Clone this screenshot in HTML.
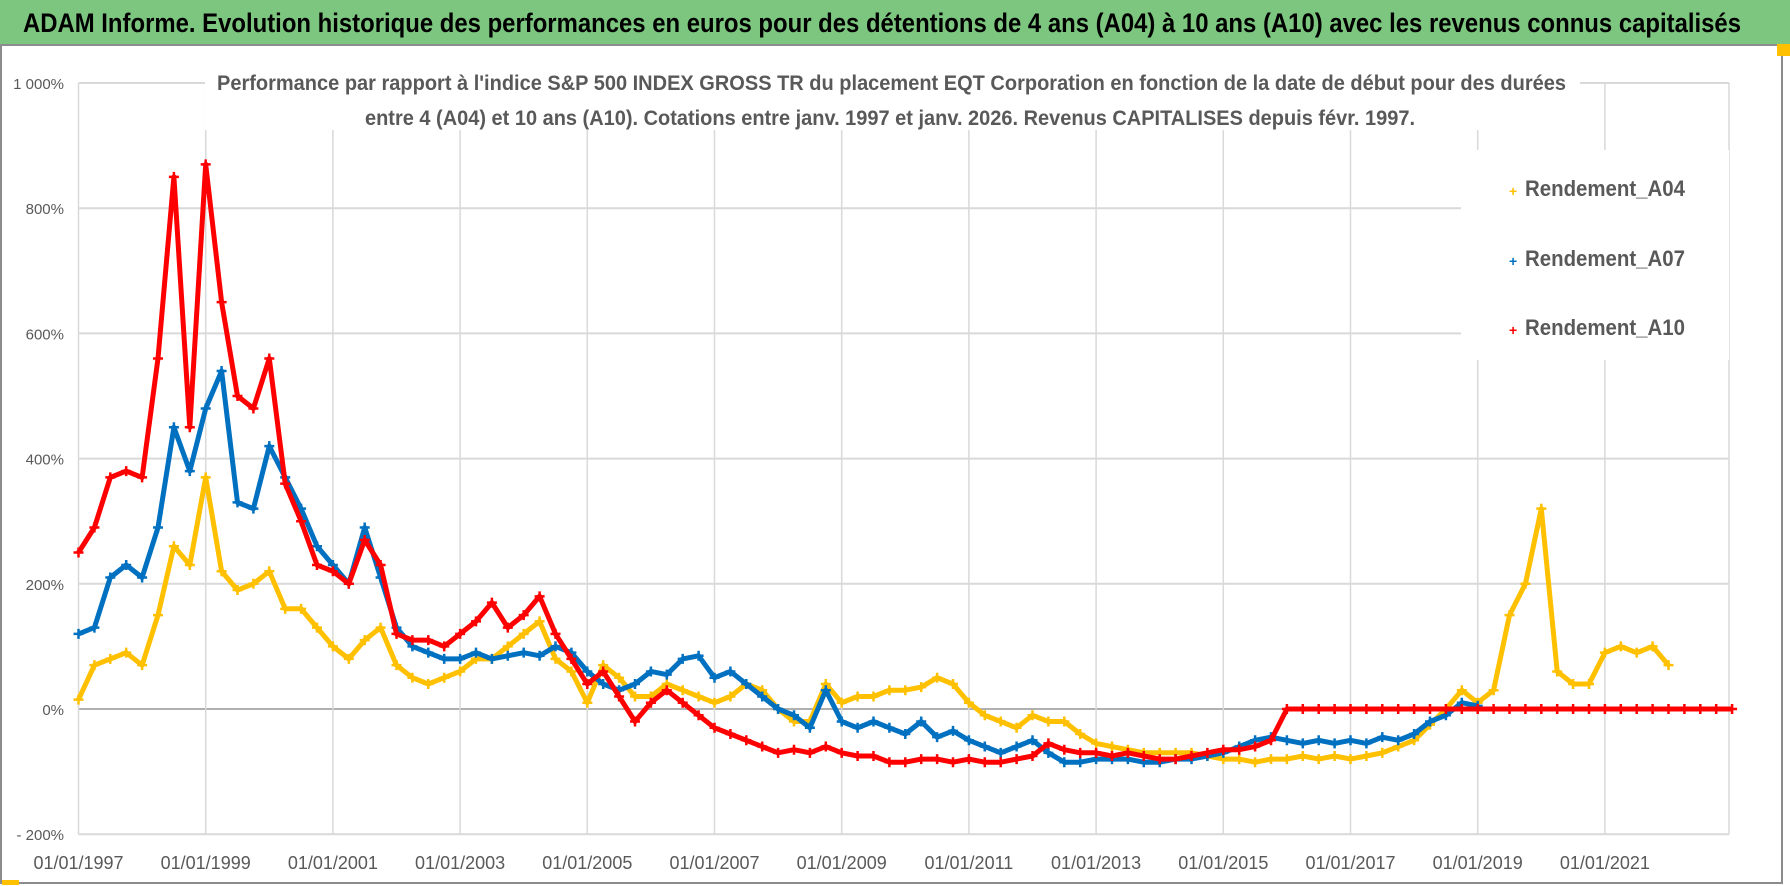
<!DOCTYPE html>
<html><head><meta charset="utf-8"><style>
html,body{margin:0;padding:0;background:#fff;}
svg{display:block;font-family:"Liberation Sans Narrow","Liberation Sans",sans-serif;}
</style></head><body>
<svg id="chart" width="1790" height="886" viewBox="0 0 1790 886" xmlns="http://www.w3.org/2000/svg">
<rect x="0" y="0" width="1790" height="886" fill="#fff"/>
<rect x="0" y="0" width="1790" height="44" fill="#7dc67f"/>
<text x="23" y="32" font-size="27" font-weight="bold" fill="#000" textLength="1718" lengthAdjust="spacingAndGlyphs">ADAM Informe. Evolution historique des performances en euros pour des détentions de 4 ans (A04) à 10 ans (A10) avec les revenus connus capitalisés</text>
<rect x="1" y="45" width="1781" height="838" fill="none" stroke="#8c8c8c" stroke-width="2"/>
<rect x="1777" y="44" width="13" height="12" fill="#ffc000"/>
<rect x="2" y="880" width="17" height="5" fill="#ffc000"/>
<g id="grid"></g>
<g id="series"></g>
<rect x="205" y="66" width="1375" height="64" fill="#fff"/>
<text x="217" y="90" font-size="21" font-weight="bold" fill="#595959" textLength="1349" lengthAdjust="spacingAndGlyphs">Performance par rapport à l'indice S&amp;P 500 INDEX GROSS TR  du placement EQT Corporation en fonction de la date de début pour des durées</text>
<text x="365" y="125" font-size="21" font-weight="bold" fill="#595959" textLength="1050" lengthAdjust="spacingAndGlyphs">entre 4 (A04) et 10 ans (A10).  Cotations entre janv. 1997 et janv. 2026. Revenus CAPITALISES depuis févr. 1997.</text>
<g>
<rect x="1461" y="150" width="268" height="210" fill="#fff"/>
<g><text x="1509" y="196" font-size="14" fill="#ffc000" font-weight="bold">+</text><text x="1525" y="196" font-size="22" font-weight="bold" fill="#595959" textLength="160" lengthAdjust="spacingAndGlyphs">Rendement_A04</text></g>
<g><text x="1509" y="266" font-size="14" fill="#0070c0" font-weight="bold">+</text><text x="1525" y="266" font-size="22" font-weight="bold" fill="#595959" textLength="160" lengthAdjust="spacingAndGlyphs">Rendement_A07</text></g>
<g><text x="1509" y="335" font-size="14" fill="#ff0000" font-weight="bold">+</text><text x="1525" y="335" font-size="22" font-weight="bold" fill="#595959" textLength="160" lengthAdjust="spacingAndGlyphs">Rendement_A10</text></g>
</g>
</svg>
<script>
const yTicks = [-200, 0, 200, 400, 600, 800, 1000];
const yTickLabels = ["- 200%", "0%", "200%", "400%", "600%", "800%", "1 000%"];
const xTickYears = [1997, 1999, 2001, 2003, 2005, 2007, 2009, 2011, 2013, 2015, 2017, 2019, 2021];
const xTickLabels = ["01/01/1997","01/01/1999","01/01/2001","01/01/2003","01/01/2005","01/01/2007","01/01/2009","01/01/2011","01/01/2013","01/01/2015","01/01/2017","01/01/2019","01/01/2021"];
const startYear = 1997;   // quarterly samples starting here
const a04 = [15,70,80,90, 70,150,260,230, 370,220,190,200, 220,160,160,130, 100,80,110,130, 70,50,40,50, 60,80,80,100, 120,140,80,60, 10,70,50,20, 20,40,30,20, 10,20,40,30, 0,-20,-20,40, 10,20,20,30, 30,35,50,40, 10,-10,-20,-30, -10,-20,-20,-40, -55,-60,-65,-70, -70,-70,-70,-75, -80,-80,-85,-80, -80,-75,-80,-75, -80,-75,-70,-60, -50,-25,0,30, 10,30,150,200, 320,60,40,40, 90,100,90,100, 70];
const a07 = [120,130,210,230, 210,290,450,380, 480,540,330,320, 420,370,320,260, 230,200,290,210, 130,100,90,80, 80,90,80,85, 90,85,100,90, 60,40,30,40, 60,55,80,85, 50,60,40,20, 0,-10,-30,30, -20,-30,-20,-30, -40,-20,-45,-35, -50,-60,-70,-60, -50,-70,-85,-85, -80,-80,-80,-85, -85,-80,-80,-75, -70,-60,-50,-45, -50,-55,-50,-55, -50,-55,-45,-50, -40,-20,-10,10, 5];
const a10 = [250,290,370,380, 370,560,850,450, 870,650,500,480, 560,360,300,230, 220,200,270,230, 120,110,110,100, 120,140,170,130, 150,180,120,80, 40,60,20,-20, 10,30,10,-10, -30,-40,-50,-60, -70,-65,-70,-60, -70,-75,-75,-85, -85,-80,-80,-85, -80,-85,-85,-80, -75,-55,-65,-70, -70,-75,-70,-75, -80,-80,-75,-70, -65,-65,-60,-50, 0,0,0,0, 0,0,0,0, 0,0,0,0, 0,0,0,0, 0,0,0,0, 0,0,0,0, 0,0,0,0, 0];

const NS = "http://www.w3.org/2000/svg";
const x0 = 78.5, pxPerYear = 63.6, xEnd = 1729;
const yZero = 709, pxPerPct = 125.2/200;
function xScale(year){ return x0 + (year - 1997) * pxPerYear; }
function yScale(v){ return yZero - v * pxPerPct; }
function mk(tag, attrs, parent){ const e=document.createElementNS(NS,tag); for(const k in attrs) e.setAttribute(k, attrs[k]); parent.appendChild(e); return e; }

const grid = document.getElementById('grid');
yTicks.forEach((v,i)=>{
  const y = yScale(v);
  const ln = mk('line',{x1:x0,x2:xEnd,y1:y,y2:y,stroke: v===0?'#b0b0b0':'#d9d9d9','stroke-width':2},grid);
  
  
  const t = mk('text',{x:64,y:y+6,'text-anchor':'end','font-size':15,fill:'#595959'},grid);
  t.textContent = yTickLabels[i];
  
  
});
xTickYears.forEach((yr,i)=>{
  const x = xScale(yr);
  const ln = mk('line',{x1:x,x2:x,y1:yScale(1000),y2:yScale(-200),stroke:'#d9d9d9','stroke-width':1.5},grid);
  
  
  const t = mk('text',{x:x,y:869,'text-anchor':'middle','font-size':18,fill:'#595959'},grid);
  t.textContent = xTickLabels[i];
  
  
});
const lastX = mk('line',{x1:xEnd,x2:xEnd,y1:yScale(1000),y2:yScale(-200),stroke:'#d9d9d9','stroke-width':1.5},grid);



const seriesG = document.getElementById('series');
function drawSeries(vals, color, name){
  const g = mk('g',{},seriesG);
  
  
  const pts = vals.map((v,i)=>[xScale(startYear + i/4), yScale(v)]);
  mk('polyline',{points:pts.map(p=>p[0].toFixed(1)+','+p[1].toFixed(1)).join(' '),fill:'none',stroke:color,'stroke-width':5,'stroke-linejoin':'round'},g);
  pts.forEach(p=>{
    const m = mk('path',{d:`M${p[0]-5},${p[1]}h10M${p[0]},${p[1]-5}v10`,stroke:color,'stroke-width':2.5},g);
    
    
  });
}
drawSeries(a04,'#ffc000','series-a04');
drawSeries(a07,'#0070c0','series-a07');
drawSeries(a10,'#ff0000','series-a10');
</script>
</body></html>
